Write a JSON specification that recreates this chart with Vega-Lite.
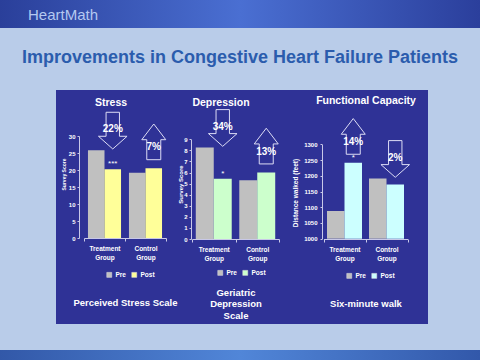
{
  "$schema": "https://vega.github.io/schema/vega-lite/v6.json",
  "background": "#b9cce9",
  "padding": 0,
  "spacing": 0,
  "config": {
    "view": {"stroke": null},
    "font": "Liberation Sans",
    "concat": {"spacing": 0},
    "axis": {"grid": false, "labelFlush": false, "labelOverlap": false},
    "title": {"color": "white", "fontSize": 10.5, "fontWeight": "bold", "font": "Liberation Sans", "baseline": "middle", "frame": "group", "anchor": "middle"}
  },
  "datasets": {
    "stress": [
      {"group": "Treatment Group", "period": "Pre", "value": 25.8},
      {"group": "Treatment Group", "period": "Post", "value": 20.2, "change": "22%", "dir": "down", "sig": "***"},
      {"group": "Control Group", "period": "Pre", "value": 19.2},
      {"group": "Control Group", "period": "Post", "value": 20.5, "change": "7%", "dir": "up"}
    ],
    "depression": [
      {"group": "Treatment Group", "period": "Pre", "value": 8.25},
      {"group": "Treatment Group", "period": "Post", "value": 5.45, "change": "34%", "dir": "down", "sig": "*"},
      {"group": "Control Group", "period": "Pre", "value": 5.3},
      {"group": "Control Group", "period": "Post", "value": 6.0, "change": "13%", "dir": "up"}
    ],
    "functional": [
      {"group": "Treatment Group", "period": "Pre", "value": 1088},
      {"group": "Treatment Group", "period": "Post", "value": 1241, "change": "14%", "dir": "up", "sig": "*"},
      {"group": "Control Group", "period": "Pre", "value": 1191},
      {"group": "Control Group", "period": "Post", "value": 1172, "change": "2%", "dir": "down"}
    ],
    "labels": [
      {"logo": "HeartMath", "headline": "Improvements in Congestive Heart Failure Patients"}
    ]
  },
  "vconcat": [
    {
      "width": 480,
      "height": 28,
      "view": {"fill": {"gradient": "linear", "x1": 0, "y1": 0, "x2": 1, "y2": 0, "stops": [{"offset": 0, "color": "#2a3f9a"}, {"offset": 0.5, "color": "#4a6fd2"}, {"offset": 1, "color": "#2b3f9c"}]}},
      "data": {"name": "labels"},
      "mark": {"type": "text", "align": "left", "baseline": "middle", "dx": -212, "dy": 1, "fontSize": 15, "color": "#b4c8f0"},
      "encoding": {"text": {"field": "logo"}}
    },
    {
      "width": 480,
      "height": 62,
      "data": {"name": "labels"},
      "mark": {"type": "text", "baseline": "middle", "dy": -1, "fontSize": 18, "fontWeight": "bold", "color": "#2b5cad"},
      "encoding": {"text": {"field": "headline"}}
    },
    {
      "hconcat": [
        {"width": 56, "height": 234, "data": {"values": [{}]}, "mark": {"type": "text", "text": ""}},
        {
          "width": 122,
          "height": 234,
          "view": {"fill": "#2f3296"},
          "title": {"text": "Stress", "offset": -18, "dx": -6},
          "data": {"name": "stress"},
          "encoding": {
            "x": {"field": "group", "type": "nominal", "sort": ["Treatment Group", "Control Group"],
              "scale": {"range": [28, 110], "paddingInner": 0, "paddingOuter": 0},
              "axis": {"orient": "bottom", "offset": -86, "domainColor": "#c8c8e8", "tickColor": "#c8c8e8", "tickBand": "extent", "tickSize": 3,
                "labelColor": "white", "labelFontSize": 6.5, "labelFontWeight": "bold", "labelExpr": "split(datum.label, ' ')", "labelLineHeight": 9, "labelPadding": 4, "labelAngle": 0,
                "title": "Perceived Stress Scale", "titleColor": "white", "titleFontSize": 9.5, "titleFontWeight": "bold", "titleY": 64, "titleBaseline": "middle"}},
            "xOffset": {"field": "period", "type": "nominal", "sort": ["Pre", "Post"], "scale": {"paddingOuter": 0.24, "paddingInner": 0}},
            "y": {"field": "value", "type": "quantitative", "title": "Survey Score",
              "scale": {"domain": [0, 30], "range": [148, 46], "nice": false, "zero": false},
              "axis": {"orient": "left", "offset": -23, "values": [0, 5, 10, 15, 20, 25, 30], "domainColor": "#c8c8e8", "tickColor": "#c8c8e8", "tickSize": 2,
                "labelColor": "white", "labelFontSize": 6, "labelFontWeight": "bold", "labelPadding": 2,
                "title": "Survey Score", "titleColor": "white", "titleFontSize": 5, "titleFontWeight": "bold", "titleX": -16, "titleY": 84, "titleAngle": -90, "titleAlign": "center", "titleBaseline": "middle"}}
          },
          "layer": [
            {
              "mark": {"type": "bar"},
              "encoding": {
                "y2": {"datum": 0},
                "color": {"field": "period", "type": "nominal", "scale": {"domain": ["Pre", "Post"], "range": ["#c0c0c0", "#ffff99"]},
                  "legend": {"orient": "none", "legendX": 50, "legendY": 181.5, "direction": "horizontal", "title": null, "symbolType": "square", "symbolSize": 25, "symbolStrokeColor": "#e0e0e0", "symbolStrokeWidth": 0.5, "labelColor": "white", "labelFontSize": 6.5, "labelFontWeight": "bold", "labelOffset": 3, "columnPadding": 4}}
              }
            },
            {
              "transform": [{"filter": "datum.sig"}],
              "mark": {"type": "text", "dy": -3, "baseline": "alphabetic", "fontSize": 8, "color": "white"},
              "encoding": {"text": {"field": "sig"}}
            },
            {
              "transform": [{"joinaggregate": [{"op": "max", "field": "value", "as": "top"}], "groupby": ["group"]}, {"filter": "datum.period === 'Post'"}],
              "mark": {"type": "point", "filled": false, "color": "#dcdcf5", "strokeWidth": 1, "size": 400, "opacity": 1},
              "encoding": {
                "y": {"field": "top", "type": "quantitative", "title": "Survey Score"},
                "shape": {"field": "dir", "type": "nominal", "legend": null, "scale": {"domain": ["down", "up"], "range": ["M -0.67 -3.8 L 0.67 -3.8 L 0.67 -1.4 L 1.43 -1.4 L 0 -0.13 L -1.43 -1.4 L -0.67 -1.4 Z", "M 0 -4.43 L 1.2 -2.86 L 0.7 -2.86 L 0.7 -0.86 L -0.7 -0.86 L -0.7 -2.86 L -1.2 -2.86 Z"]}}
              }
            },
            {
              "transform": [{"joinaggregate": [{"op": "max", "field": "value", "as": "top"}], "groupby": ["group"]}, {"filter": "datum.period === 'Post'"}],
              "mark": {"type": "text", "dy": -21, "fontSize": 10, "fontWeight": "bold", "color": "white", "baseline": "middle"},
              "encoding": {"y": {"field": "top", "type": "quantitative", "title": "Survey Score"}, "text": {"field": "change"}}
            }
          ]
        },
        {
          "width": 112,
          "height": 234,
          "view": {"fill": "#2f3296"},
          "title": {"text": "Depression", "offset": -18, "dx": -13},
          "data": {"name": "depression"},
          "encoding": {
            "x": {"field": "group", "type": "nominal", "sort": ["Treatment Group", "Control Group"],
              "scale": {"range": [14, 101], "paddingInner": 0, "paddingOuter": 0},
              "axis": {"orient": "bottom", "offset": -85, "domainColor": "#c8c8e8", "tickColor": "#c8c8e8", "tickBand": "extent", "tickSize": 3,
                "labelColor": "white", "labelFontSize": 6.5, "labelFontWeight": "bold", "labelExpr": "split(datum.label, ' ')", "labelLineHeight": 9, "labelPadding": 4, "labelAngle": 0,
                "title": ["Geriatric", "Depression", "Scale"], "titleColor": "white", "titleFontSize": 9.5, "titleFontWeight": "bold", "titleY": 53, "titleBaseline": "middle", "titleLineHeight": 11.5}},
            "xOffset": {"field": "period", "type": "nominal", "sort": ["Pre", "Post"], "scale": {"paddingOuter": 0.21, "paddingInner": 0}},
            "y": {"field": "value", "type": "quantitative", "title": "Survey Score",
              "scale": {"domain": [0, 9], "range": [149, 49.3], "nice": false, "zero": false},
              "axis": {"orient": "left", "offset": -13, "values": [0, 1, 2, 3, 4, 5, 6, 7, 8, 9], "domainColor": "#c8c8e8", "tickColor": "#c8c8e8", "tickSize": 2,
                "labelColor": "white", "labelFontSize": 6, "labelFontWeight": "bold", "labelPadding": 2,
                "title": "Survey Score", "titleColor": "white", "titleFontSize": 6, "titleFontWeight": "bold", "titleX": -11, "titleY": 94, "titleAngle": -90, "titleAlign": "center", "titleBaseline": "middle"}}
          },
          "layer": [
            {
              "mark": {"type": "bar"},
              "encoding": {
                "y2": {"datum": 0},
                "color": {"field": "period", "type": "nominal", "scale": {"domain": ["Pre", "Post"], "range": ["#c0c0c0", "#ccffcc"]},
                  "legend": {"orient": "none", "legendX": 39, "legendY": 179.5, "direction": "horizontal", "title": null, "symbolType": "square", "symbolSize": 25, "symbolStrokeColor": "#e0e0e0", "symbolStrokeWidth": 0.5, "labelColor": "white", "labelFontSize": 6.5, "labelFontWeight": "bold", "labelOffset": 3, "columnPadding": 4}}
              }
            },
            {
              "transform": [{"filter": "datum.sig"}],
              "mark": {"type": "text", "dy": -3, "baseline": "alphabetic", "fontSize": 8, "color": "white"},
              "encoding": {"text": {"field": "sig"}}
            },
            {
              "transform": [{"joinaggregate": [{"op": "max", "field": "value", "as": "top"}], "groupby": ["group"]}, {"filter": "datum.period === 'Post'"}],
              "mark": {"type": "point", "filled": false, "color": "#dcdcf5", "strokeWidth": 1, "size": 400, "opacity": 1},
              "encoding": {
                "y": {"field": "top", "type": "quantitative", "title": "Survey Score"},
                "shape": {"field": "dir", "type": "nominal", "legend": null, "scale": {"domain": ["down", "up"], "range": ["M -0.67 -3.8 L 0.67 -3.8 L 0.67 -1.4 L 1.43 -1.4 L 0 -0.13 L -1.43 -1.4 L -0.67 -1.4 Z", "M 0 -4.43 L 1.2 -2.86 L 0.7 -2.86 L 0.7 -0.86 L -0.7 -0.86 L -0.7 -2.86 L -1.2 -2.86 Z"]}}
              }
            },
            {
              "transform": [{"joinaggregate": [{"op": "max", "field": "value", "as": "top"}], "groupby": ["group"]}, {"filter": "datum.period === 'Post'"}],
              "mark": {"type": "text", "dy": -21, "fontSize": 10, "fontWeight": "bold", "color": "white", "baseline": "middle"},
              "encoding": {"y": {"field": "top", "type": "quantitative", "title": "Survey Score"}, "text": {"field": "change"}}
            }
          ]
        },
        {
          "width": 138,
          "height": 234,
          "view": {"fill": "#2f3296"},
          "title": {"text": "Functional Capacity", "offset": -16, "dx": 7},
          "data": {"name": "functional"},
          "encoding": {
            "x": {"field": "group", "type": "nominal", "sort": ["Treatment Group", "Control Group"],
              "scale": {"range": [33.5, 117.5], "paddingInner": 0, "paddingOuter": 0},
              "axis": {"orient": "bottom", "offset": -85, "domainColor": "#c8c8e8", "tickColor": "#c8c8e8", "tickBand": "extent", "tickSize": 3,
                "labelColor": "white", "labelFontSize": 6.5, "labelFontWeight": "bold", "labelExpr": "split(datum.label, ' ')", "labelLineHeight": 9, "labelPadding": 4, "labelAngle": 0,
                "title": "Six-minute walk", "titleColor": "white", "titleFontSize": 9.5, "titleFontWeight": "bold", "titleY": 64, "titleBaseline": "middle"}},
            "xOffset": {"field": "period", "type": "nominal", "sort": ["Pre", "Post"], "scale": {"paddingOuter": 0.2, "paddingInner": 0}},
            "y": {"field": "value", "type": "quantitative", "title": "Distance walked (feet)",
              "scale": {"domain": [1000, 1300], "range": [148.7, 54.3], "nice": false, "zero": false},
              "axis": {"orient": "left", "offset": -32, "values": [1000, 1050, 1100, 1150, 1200, 1250, 1300], "format": "d", "domainColor": "#c8c8e8", "tickColor": "#c8c8e8", "tickSize": 2,
                "labelColor": "white", "labelFontSize": 6, "labelFontWeight": "bold", "labelPadding": 3,
                "title": "Distance walked (feet)", "titleColor": "white", "titleFontSize": 6.5, "titleFontWeight": "bold", "titleX": -27, "titleY": 102.5, "titleAngle": -90, "titleAlign": "center", "titleBaseline": "middle"}}
          },
          "layer": [
            {
              "mark": {"type": "bar"},
              "encoding": {
                "y2": {"datum": 1000},
                "color": {"field": "period", "type": "nominal", "scale": {"domain": ["Pre", "Post"], "range": ["#c0c0c0", "#ccffff"]},
                  "legend": {"orient": "none", "legendX": 56, "legendY": 182.5, "direction": "horizontal", "title": null, "symbolType": "square", "symbolSize": 25, "symbolStrokeColor": "#e0e0e0", "symbolStrokeWidth": 0.5, "labelColor": "white", "labelFontSize": 6.5, "labelFontWeight": "bold", "labelOffset": 3, "columnPadding": 4}}
              }
            },
            {
              "transform": [{"filter": "datum.sig"}],
              "mark": {"type": "text", "dy": -3, "baseline": "alphabetic", "fontSize": 8, "color": "white"},
              "encoding": {"text": {"field": "sig"}}
            },
            {
              "transform": [{"joinaggregate": [{"op": "max", "field": "value", "as": "top"}], "groupby": ["group"]}, {"filter": "datum.period === 'Post'"}],
              "mark": {"type": "point", "filled": false, "color": "#dcdcf5", "strokeWidth": 1, "size": 400, "opacity": 1},
              "encoding": {
                "y": {"field": "top", "type": "quantitative", "title": "Distance walked (feet)"},
                "shape": {"field": "dir", "type": "nominal", "legend": null, "scale": {"domain": ["down", "up"], "range": ["M -0.67 -3.8 L 0.67 -3.8 L 0.67 -1.4 L 1.43 -1.4 L 0 -0.13 L -1.43 -1.4 L -0.67 -1.4 Z", "M 0 -4.43 L 1.2 -2.86 L 0.7 -2.86 L 0.7 -0.86 L -0.7 -0.86 L -0.7 -2.86 L -1.2 -2.86 Z"]}}
              }
            },
            {
              "transform": [{"joinaggregate": [{"op": "max", "field": "value", "as": "top"}], "groupby": ["group"]}, {"filter": "datum.period === 'Post'"}],
              "mark": {"type": "text", "dy": -21, "fontSize": 10, "fontWeight": "bold", "color": "white", "baseline": "middle"},
              "encoding": {"y": {"field": "top", "type": "quantitative", "title": "Distance walked (feet)"}, "text": {"field": "change"}}
            }
          ]
        },
        {"width": 52, "height": 234, "data": {"values": [{}]}, "mark": {"type": "text", "text": ""}}
      ],
      "spacing": 0,
      "bounds": "flush",
      "resolve": {
        "scale": {"x": "independent", "y": "independent", "xOffset": "independent", "color": "independent", "shape": "independent"},
        "axis": {"x": "independent", "y": "independent"},
        "legend": {"color": "independent"}
      }
    },
    {"width": 480, "height": 25, "data": {"values": [{}]}, "mark": {"type": "text", "text": ""}},
    {
      "width": 480,
      "height": 11,
      "view": {"fill": {"gradient": "linear", "x1": 0, "y1": 0, "x2": 1, "y2": 0, "stops": [{"offset": 0, "color": "#3258a8"}, {"offset": 0.5, "color": "#5186d8"}, {"offset": 1, "color": "#3258aa"}]}},
      "data": {"values": [{}]},
      "mark": {"type": "text", "text": ""}
    }
  ]
}
